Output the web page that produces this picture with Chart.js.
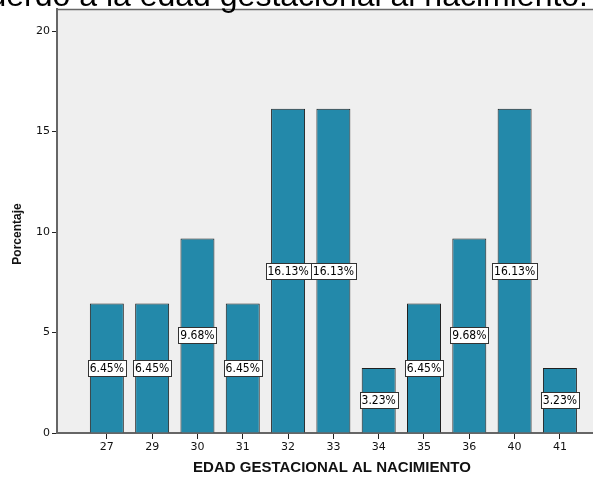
<!DOCTYPE html>
<html>
<head>
<meta charset="utf-8">
<script src="https://cdn.jsdelivr.net/npm/chart.js@4/dist/chart.umd.min.js"></script>
<style>
  html, body { margin: 0; padding: 0; background: #fff; }
  #wrap { width: 593px; height: 479px; }
</style>
</head>
<body>
<div id="wrap"><canvas id="chart"></canvas></div>
<script>
(function () {
    const weeks = ['27', '29', '30', '31', '32', '33', '34', '35', '36', '40', '41'];
    const percents = [6.45, 6.45, 9.68, 6.45, 16.13, 16.13, 3.23, 6.45, 9.68, 16.13, 3.23];
    const yTicks = [0, 5, 10, 15, 20];
    const title = 'Distribución de acuerdo a la edad gestacional al nacimiento.';
    const xTitle = 'EDAD GESTACIONAL AL NACIMIENTO';
    const yTitle = 'Porcentaje';

    const plotBg = {
        id: 'plotBg',
        beforeDraw(chart) {
            const { ctx, chartArea: a } = chart;
            ctx.save();
            ctx.fillStyle = '#fff';
            ctx.fillRect(0, 0, chart.width, chart.height);
            ctx.fillStyle = '#efefef';
            ctx.fillRect(a.left, a.top, a.right - a.left, a.bottom - a.top);
            ctx.strokeStyle = '#666';
            ctx.lineWidth = 1.5;
            ctx.beginPath();
            ctx.moveTo(a.left, a.top + 0.5);
            ctx.lineTo(a.right, a.top + 0.5);
            ctx.stroke();
            // cut-off title above the chart
            ctx.fillStyle = '#000';
            ctx.font = '32px "Liberation Sans", Arial, sans-serif';
            ctx.textAlign = 'right';
            ctx.textBaseline = 'alphabetic';
            ctx.fillText(title, 588, 6);
            // axis titles
            ctx.fillStyle = '#111';
            ctx.font = 'bold 15px "Liberation Sans", Arial, sans-serif';
            ctx.textAlign = 'center';
            ctx.textBaseline = 'middle';
            ctx.fillText(xTitle, 332, 468);
            ctx.translate(18, 234);
            ctx.rotate(-Math.PI / 2);
            ctx.font = 'bold 12px "Liberation Sans", Arial, sans-serif';
            ctx.fillText(yTitle, 0, 0);
            ctx.restore();
        }
    };

    const barLabels = {
        id: 'barLabels',
        afterDatasetsDraw(chart) {
            const { ctx } = chart;
            const meta = chart.getDatasetMeta(0);
            ctx.save();
            ctx.font = '12px "DejaVu Sans Condensed", "DejaVu Sans", sans-serif';
            ctx.textAlign = 'center';
            ctx.textBaseline = 'middle';
            meta.data.forEach((bar, i) => {
                const txt = percents[i].toFixed(2) + '%';
                const cy = Math.round((bar.y + bar.base) / 2);
                const w = Math.round(ctx.measureText(txt).width + 4);
                const h = 16;
                const x0 = Math.round(bar.x - w / 2) + 0.5;
                const y0 = Math.round(cy - h / 2) + 0.5;
                ctx.fillStyle = '#fff';
                ctx.fillRect(x0, y0, w, h);
                ctx.strokeStyle = '#333';
                ctx.lineWidth = 1;
                ctx.strokeRect(x0, y0, w, h);
                ctx.fillStyle = '#000';
                ctx.fillText(txt, bar.x, cy + 1);
            });
            ctx.restore();
        }
    };

    new Chart(
        document.getElementById('chart'),
        {
            type: 'bar',
            data: {
                datasets: [
                    {
                        label: yTitle,
                        data: percents.map((v, i) => ({ x: i, y: v })),
                        backgroundColor: '#2389aa',
                        borderColor: '#1f1f1f',
                        borderWidth: 1,
                        categoryPercentage: 1,
                        barPercentage: 0.75
                    }
                ]
            },
            options: {
                responsive: true,
                maintainAspectRatio: false,
                animation: false,
                layout: { padding: { top: 9, right: 0, bottom: 0, left: 0 } },
                plugins: {
                    legend: { display: false },
                    tooltip: { enabled: false }
                },
                scales: {
                    x: {
                        type: 'linear',
                        offset: false,
                        min: -1.1,
                        max: 10.73,
                        afterBuildTicks: scale => {
                            scale.ticks = weeks.map((_, i) => ({ value: i }));
                        },
                        afterFit: scale => { scale.height = 46; },
                        ticks: {
                            autoSkip: false,
                            maxRotation: 0,
                            color: '#111',
                            padding: 2,
                            font: { family: 'DejaVu Sans', size: 11 },
                            callback: v => weeks[v]
                        },
                        grid: {
                            offset: false,
                            drawOnChartArea: false,
                            drawTicks: true,
                            tickLength: 6,
                            color: '#222'
                        },
                        border: { display: true, color: '#666', width: 2 }
                    },
                    y: {
                        min: 0,
                        max: 21.1,
                        afterBuildTicks: scale => {
                            scale.ticks = yTicks.map(v => ({ value: v }));
                        },
                        afterFit: scale => { scale.width = 57; },
                        ticks: {
                            color: '#111',
                            padding: 2,
                            font: { family: 'DejaVu Sans', size: 11 }
                        },
                        grid: {
                            drawOnChartArea: false,
                            drawTicks: true,
                            tickLength: 5,
                            color: '#222'
                        },
                        border: { display: true, color: '#666', width: 2 }
                    }
                }
            },
            plugins: [plotBg, barLabels]
        }
    );
})();
</script>
</body>
</html>
